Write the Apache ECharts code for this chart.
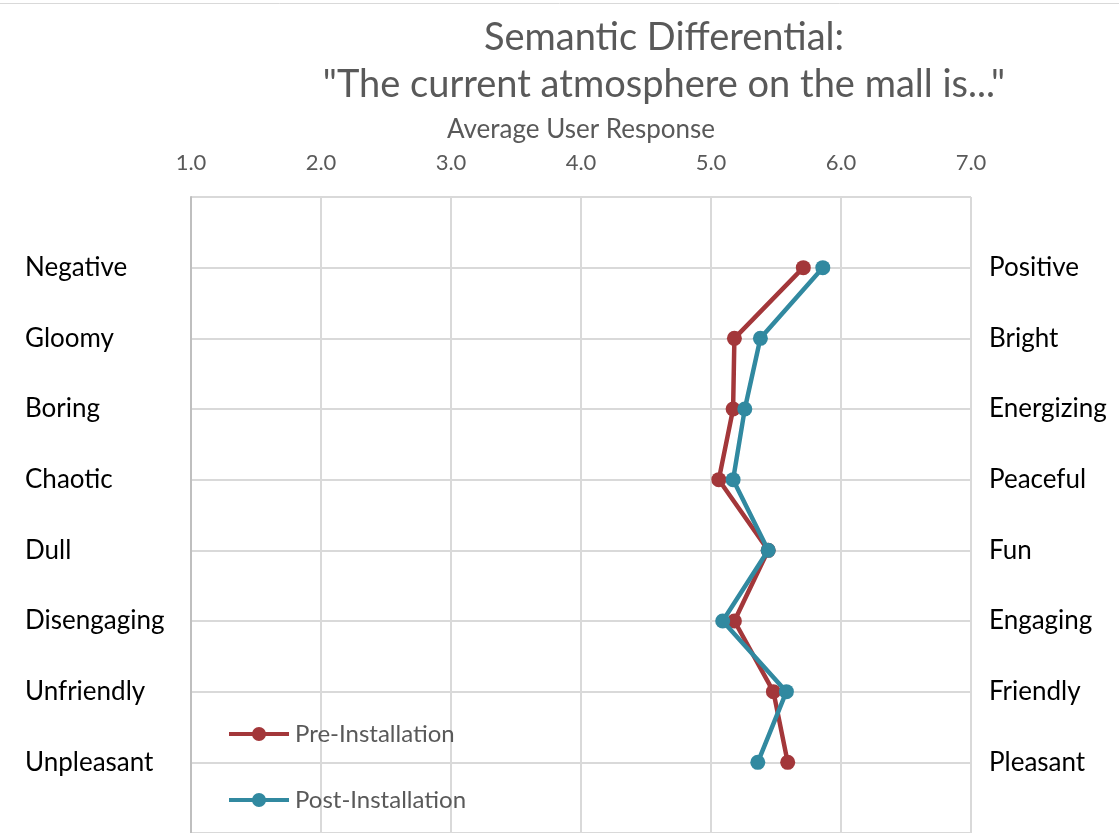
<!DOCTYPE html>
<html>
<head>
<meta charset="utf-8">
<script src="https://cdn.jsdelivr.net/npm/echarts@6/dist/echarts.min.js"></script>
<style>
  html, body { margin: 0; padding: 0; background: #fff; }
  #chart { width: 1119px; height: 833px; }
</style>
</head>
<body>
<div id="chart"></div>
<script>
// Semantic differential word pairs (top to bottom)
const leftTerms  = ['Negative', 'Gloomy', 'Boring', 'Chaotic', 'Dull', 'Disengaging', 'Unfriendly', 'Unpleasant'];
const rightTerms = ['Positive', 'Bright', 'Energizing', 'Peaceful', 'Fun', 'Engaging', 'Friendly', 'Pleasant'];

// Average response on the 1–7 scale
const preInstallation  = [5.71, 5.18, 5.17, 5.06, 5.44, 5.18, 5.48, 5.59];
const postInstallation = [5.86, 5.38, 5.26, 5.17, 5.44, 5.09, 5.58, 5.36];

const scaleTicks = [1, 2, 3, 4, 5, 6, 7];

const FONT = 'Lato, "Open Sans", sans-serif';
const GREY = '#595959';
const PRE_COLOR = '#A3373A';
const POST_COLOR = '#3189A0';

// Legend marker: thick line with a dot in the middle (60 x 14 box),
// both sub-paths wound the same way so the dot stays solid
const LEGEND_ICON = 'path://M0,5H60V9H0Z M23,7A7,7 0 1,1 37,7A7,7 0 1,1 23,7Z';

// Each row sits at position 1..N on an inverted value axis
const toPoints = vals => vals.map((v, i) => [v, i + 1]);
const rowLabel = terms => v => (v >= 1 && v <= terms.length ? terms[v - 1] : '');

const chart = echarts.init(document.getElementById('chart'), null, { renderer: 'canvas' });

chart.setOption({
  backgroundColor: '#ffffff',
  animation: false,
  title: {
    text: 'Semantic Differential:\n"The current atmosphere on the mall is..."',
    left: 664,
    top: 14,
    padding: 0,
    textAlign: 'center',
    textStyle: {
      fontFamily: FONT,
      fontSize: 38,
      fontWeight: 'normal',
      color: GREY,
      lineHeight: 47
    }
  },
  legend: {
    orient: 'vertical',
    left: 229,
    top: 722,
    padding: 0,
    itemGap: 42,
    itemWidth: 60,
    itemHeight: 14,
    icon: LEGEND_ICON,
    textStyle: { fontFamily: FONT, fontSize: 24, color: GREY, padding: [0, 0, 0, 1] },
    data: ['Pre-Installation', 'Post-Installation']
  },
  grid: {
    left: 191,
    top: 197,
    width: 780,
    height: 639,
    containLabel: false
  },
  xAxis: {
    type: 'value',
    position: 'top',
    min: scaleTicks[0],
    max: scaleTicks[scaleTicks.length - 1],
    interval: 1,
    name: 'Average User Response',
    nameLocation: 'middle',
    nameGap: 54,
    nameTextStyle: { fontFamily: FONT, fontSize: 26, color: GREY },
    axisLine: { show: false },
    axisTick: { show: false },
    axisLabel: {
      margin: 23,
      fontFamily: FONT,
      fontSize: 22,
      color: GREY,
      formatter: v => v.toFixed(1)
    },
    splitLine: { show: true, lineStyle: { color: '#d9d9d9', width: 2 } }
  },
  yAxis: [
    {
      type: 'value',
      inverse: true,
      min: 0,
      max: 9,
      interval: 1,
      position: 'left',
      axisLine: { show: true, lineStyle: { color: '#bfbfbf', width: 2 } },
      axisTick: { show: false },
      axisLabel: {
        margin: 166,
        align: 'left',
        fontFamily: FONT,
        fontSize: 26,
        color: '#000000',
        formatter: rowLabel(leftTerms)
      },
      splitLine: { show: true, lineStyle: { color: '#d9d9d9', width: 2 } }
    },
    {
      type: 'value',
      inverse: true,
      min: 0,
      max: 9,
      interval: 1,
      position: 'right',
      axisLine: { show: false },
      axisTick: { show: false },
      axisLabel: {
        margin: 18,
        align: 'left',
        fontFamily: FONT,
        fontSize: 26,
        color: '#000000',
        formatter: rowLabel(rightTerms)
      },
      splitLine: { show: false }
    }
  ],
  series: [
    {
      name: 'Pre-Installation',
      type: 'line',
      yAxisIndex: 0,
      data: toPoints(preInstallation),
      symbol: 'circle',
      symbolSize: 15,
      z: 3,
      lineStyle: { color: PRE_COLOR, width: 4.5 },
      itemStyle: { color: PRE_COLOR }
    },
    {
      name: 'Post-Installation',
      type: 'line',
      yAxisIndex: 0,
      data: toPoints(postInstallation),
      symbol: 'circle',
      symbolSize: 15,
      z: 4,
      lineStyle: { color: POST_COLOR, width: 4.5 },
      itemStyle: { color: POST_COLOR }
    }
  ],
  graphic: [
    {
      type: 'line',
      shape: { x1: 0, y1: 3.5, x2: 1119, y2: 3.5 },
      style: { stroke: '#d9d9d9', lineWidth: 1 },
      silent: true
    }
  ]
});
</script>
</body>
</html>
